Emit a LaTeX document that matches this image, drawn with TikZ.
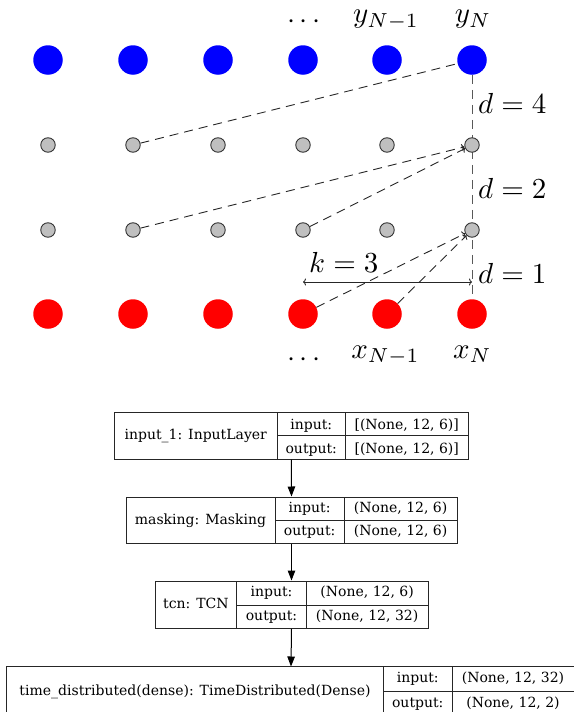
\documentclass[tikz,border=0pt]{standalone}
\usepackage{fontspec}
\newfontfamily\dvs{DejaVu Serif}
\usetikzlibrary{arrows.meta}
\newcommand{\tcnmath}[1]{\scalebox{2.9}{$#1$}}
\begin{document}
\begin{tikzpicture}[x=1pt,y=-1pt,
  big/.style={circle,minimum size=29.5pt,inner sep=0pt},
  hid/.style={circle,draw=black!80,fill=black!25,minimum size=14.5pt,inner sep=0pt,line width=0.9pt},
  conn/.style={dash pattern=on 9pt off 6pt,line width=0.9pt,draw=black!85},
  arr/.style={conn,-{To[length=3pt,width=7pt]}},
  vline/.style={dash pattern=on 9pt off 6pt,line width=0.9pt,draw=black!65},
  lbl/.style={inner sep=0pt,anchor=base},
  dlbl/.style={inner sep=0pt,anchor=base west},
  cell/.style={font=\dvs\fontsize{14}{16}\selectfont,inner sep=0pt,anchor=base},
  lay/.style={draw=black!85,line width=1pt,inner sep=0pt},
  flow/.style={-{Triangle[length=10pt,width=7.5pt]},line width=1pt,draw=black}
]
\useasboundingbox (0,0) rectangle (573,712);

% ---------- TCN sketch ----------
\foreach \i/\x in {1/48,2/133,3/218,4/303,5/387,6/472}{
  \node[big,fill=blue] (y\i) at (\x,60) {};
  \node[big,fill=red] (x\i) at (\x,314) {};
}
% vertical dashed line
\draw[vline] (y6) -- (x6);
\foreach \i/\x in {1/48,2/133,3/218,4/303,5/387,6/472}{
  \node[hid] (a\i) at (\x,145) {};
  \node[hid] (b\i) at (\x,230) {};
}
\draw[conn] (a2) -- (y6);
\draw[arr] (b2) -- (a6);
\draw[arr] (b4) -- (a6);
\draw[arr] (x4) -- (b6);
\draw[arr] (x5) -- (b6);

\coordinate (kL) at (303,282);
\coordinate (kR) at (472,282);
\draw[line width=0.9pt,black!85,{To[length=3pt,width=7pt]}-{To[length=3pt,width=7pt]}] (kL) -- (kR);
\node[dlbl] (klab) at (309,272) {\tcnmath{k=3}};

\node[dlbl] (d4) at (478,113) {\tcnmath{d=4}};
\node[dlbl] (d2) at (478,198) {\tcnmath{d=2}};
\node[dlbl] (d1) at (478,283) {\tcnmath{d=1}};

\node[lbl] (ydots) at (304,28.5) {\tcnmath{\cdots}};
\node[lbl] (yNm) at (386,23) {\tcnmath{y_{N-1}}};
\node[lbl] (yN) at (473,23) {\tcnmath{y_N}};
\node[lbl] (xdots) at (304,366) {\tcnmath{\cdots}};
\node[lbl] (xNm) at (385.5,358.3) {\tcnmath{x_{N-1}}};
\node[lbl] (xN) at (472.4,358.3) {\tcnmath{x_N}};

% ---------- layer boxes ----------
% box 1
\node[lay,minimum width=353.5pt,minimum height=46.5pt] (L1) at (291.25,435.75) {};
\draw[lay] (277,412.5) -- (277,459) (345.5,412.5) -- (345.5,459) (277,435.5) -- (468,435.5);
\node[cell] (L1n) at (195.75,439.5) {input\_1: InputLayer};
\node[cell] (L1i) at (311.25,429.3) {input:};
\node[cell] (L1o) at (311.25,453.3) {output:};
\node[cell] (L1iv) at (406.75,429.3) {[(None, 12, 6)]};
\node[cell] (L1ov) at (406.75,453.3) {[(None, 12, 6)]};

% box 2
\node[lay,minimum width=331pt,minimum height=46.3pt] (L2) at (291.5,520.15) {};
\draw[lay] (275,497) -- (275,543.3) (344.3,497) -- (344.3,543.3) (275,520.3) -- (457,520.3);
\node[cell] (L2n) at (200.5,524) {masking: Masking};
\node[cell] (L2i) at (309.65,512) {input:};
\node[cell] (L2o) at (309.65,535.5) {output:};
\node[cell] (L2iv) at (400.65,512) {(None, 12, 6)};
\node[cell] (L2ov) at (400.65,535.5) {(None, 12, 6)};

% box 3
\node[lay,minimum width=273pt,minimum height=47.3pt] (L3) at (291.5,604.65) {};
\draw[lay] (236.7,581) -- (236.7,628.3) (306.3,581) -- (306.3,628.3) (236.7,605.7) -- (428,605.7);
\node[cell] (L3n) at (195.85,608.7) {tcn: TCN};
\node[cell] (L3i) at (271.5,596.9) {input:};
\node[cell] (L3o) at (271.5,620.3) {output:};
\node[cell] (L3iv) at (367.15,596.9) {(None, 12, 6)};
\node[cell] (L3ov) at (367.15,620.3) {(None, 12, 32)};

% box 4 (cut by the frame)
\coordinate (L4top) at (291,666.5);
\draw[lay] (6.5,730) -- (6.5,666.5) -- (574,666.5);
\draw[lay] (383.5,666.5) -- (383.5,730) (452,666.5) -- (452,730) (383.5,691) -- (574,691);
\node[cell] (L4n) at (195,695) {time\_distributed(dense): TimeDistributed(Dense)};
\node[cell] (L4i) at (417.75,682.5) {input:};
\node[cell] (L4o) at (417.75,707) {output:};
\node[cell] (L4iv) at (513,682.5) {(None, 12, 32)};
\node[cell] (L4ov) at (513,707) {(None, 12, 2)};

\draw[flow] (L1.south) -- (L2.north);
\draw[flow] (L2.south) -- (L3.north);
\draw[flow] (L3.south) -- (L4top);
\end{tikzpicture}
\end{document}
